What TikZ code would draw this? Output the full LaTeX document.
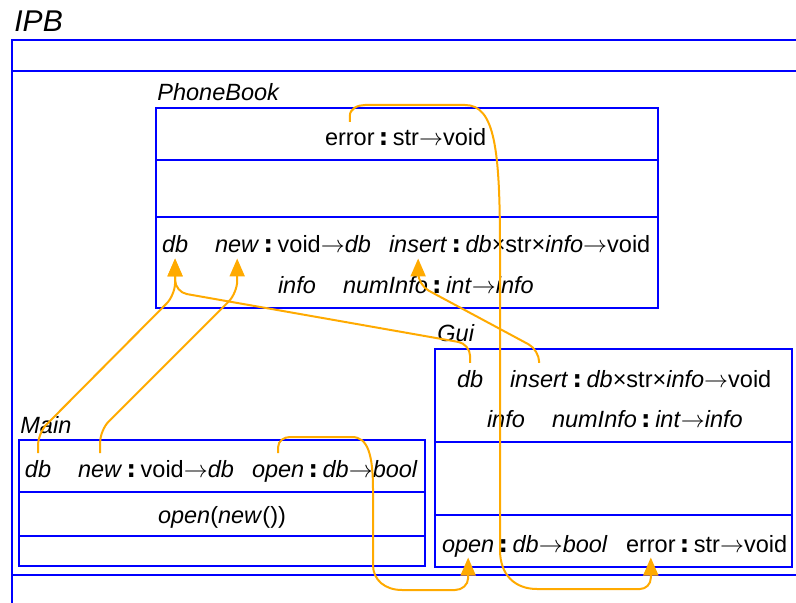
\documentclass[tikz,border=0pt]{standalone}
\usepackage{fontspec}
\setmainfont{Liberation Sans}
\newfontfamily\colonfont{DejaVu Sans}
\usepackage{tikz}
\usetikzlibrary{positioning, arrows.meta}
\definecolor{wire}{RGB}{255,170,0}
\tikzstyle{boxline} = [draw=blue, line width=1pt]
\tikzstyle{classbox} = [rectangle, draw=blue, line width=1pt, inner sep=0pt, outer sep=0pt, anchor=north west]
\tikzstyle{word} = [inner sep=0pt, outer xsep=0pt, outer ysep=2.75pt, text height=9.25pt, text depth=0pt, anchor=base west, font=\fs]
\tikzstyle{classname} = [inner sep=0pt, anchor=base west, font=\fs\itshape]
\tikzstyle{wirearrow} = [draw=wire, line width=1pt, rounded corners=6pt, -{Triangle[width=7.5pt,length=9pt]}]
\def\fs{\fontsize{11.75}{14}\selectfont}
\def\ty{\hspace{0.18em}{\colonfont\bfseries:}\hspace{0.2em}}
\def\fn{$\rightarrow$}
\def\cross{×}

\begin{document}
\begin{tikzpicture}[x=0.5pt, y=-0.5pt]
\path [use as bounding box] (0,0) rectangle (796,603);
\clip (0,0) rectangle (796,603);

% IPB
\node (ipb) [classname, font=\fontsize{15}{18}\selectfont\itshape] at (14,32) {IPB};
\draw [boxline] (830,40) -| (12,620);
\draw [boxline] (12,71) -- (830,71);
\draw [boxline] (12,575) -- (830,575);

% PhoneBook
\node (pbname) [classname] at (157,101) {PhoneBook};
\node (pb) [classbox, minimum width=251pt, minimum height=100pt] at (156,108) {};
\draw [boxline] (pb.west |- 0,160) -- (pb.east |- 0,160);
\draw [boxline] (pb.west |- 0,217) -- (pb.east |- 0,217);
\node (pberror) [word] at (325,146) {error};
\node (pberrort) [word, base right=0pt of pberror] {\ty str\fn void};
\node (pbdb) [word] at (162,253) {\textit{db}};
\node (pbnew) [word] at (215,253) {\textit{new}};
\node (pbnewt) [word, base right=0pt of pbnew] {\ty void\fn\textit{db}};
\node (pbins) [word] at (389,253) {\textit{insert}};
\node (pbinst) [word, base right=0pt of pbins] {\ty\textit{db}\cross str\cross\textit{info}\fn void};
\node (pbinfo) [word] at (278,294) {\textit{info}};
\node (pbnum) [word] at (343,294) {\textit{numInfo}};
\node (pbnumt) [word, base right=0pt of pbnum] {\ty\textit{int}\fn\textit{info}};

% Gui
\node (guiname) [classname] at (437,342) {Gui};
\node (gui) [classbox, minimum width=178.5pt, minimum height=109pt] at (435,349) {};
\draw [boxline] (gui.west |- 0,442) -- (gui.east |- 0,442);
\draw [boxline] (gui.west |- 0,515) -- (gui.east |- 0,515);
\node (gdb) [word] at (457,387) {\textit{db}};
\node (gins) [word] at (510,387) {\textit{insert}};
\node (ginst) [word, base right=0pt of gins] {\ty\textit{db}\cross str\cross\textit{info}\fn void};
\node (ginfo) [word] at (487,427) {\textit{info}};
\node (gnum) [word] at (552,427) {\textit{numInfo}};
\node (gnumt) [word, base right=0pt of gnum] {\ty\textit{int}\fn\textit{info}};
\node (gopen) [word] at (442,552) {\textit{open}};
\node (gopent) [word, base right=0pt of gopen] {\ty\textit{db}\fn\textit{bool}};
\node (gerror) [word] at (626,552) {error};
\node (gerrort) [word, base right=0pt of gerror] {\ty str\fn void};

% Main
\node (mainname) [classname] at (20,433) {Main};
\node (main) [classbox, minimum width=203pt, minimum height=63pt] at (19,440) {};
\draw [boxline] (main.west |- 0,492) -- (main.east |- 0,492);
\draw [boxline] (main.west |- 0,536) -- (main.east |- 0,536);
\node (mdb) [word] at (25,477) {\textit{db}};
\node (mnew) [word] at (78,477) {\textit{new}};
\node (mnewt) [word, base right=0pt of mnew] {\ty void\fn\textit{db}};
\node (mopen) [word] at (252,477) {\textit{open}};
\node (mopent) [word, base right=0pt of mopen] {\ty\textit{db}\fn\textit{bool}};
\node (mcall) [word] at (158,523) {\textit{open}(\textit{new}())};

% links
\draw [wirearrow] (mdb.north) -- (mdb.north |- 0,433) -- (pbdb.south |- 0,295) -- (pbdb.south);
\draw [wirearrow] (gdb.north) -- (gdb.north |- 0,344) -- (pbdb.south |- 0,292) -- (pbdb.south);
\draw [wirearrow] (mnew.north) -- (mnew.north |- 0,430) -- (pbnew.south |- 0,293) -- (pbnew.south);
\draw [wirearrow] (gins.north) -- (gins.north |- 0,350) -- (pbins.south |- 0,285) -- (pbins.south);
\draw [wirearrow, sharp corners] (pberror.north) -- (pberror.north |- 0,116) to[out=90,in=180] (365,105) -- (465,105)
  .. controls (495,105) and (500,150) .. (500,250) -- (500,550)
  .. controls (500,575) and (515,589) .. (537,589) -- (640,589)
  to[out=0,in=-90] (gerror.south |- 0,578) -- (gerror.south);
\draw [wirearrow, sharp corners] (mopen.north) -- (mopen.north |- 0,447) to[out=90,in=180] (290,437) -- (352,437)
  .. controls (368,437) and (373,455) .. (373,490) -- (373,565)
  .. controls (373,580) and (385,590) .. (402,590) -- (455,590)
  to[out=0,in=-90] (gopen.south |- 0,578) -- (gopen.south);

\end{tikzpicture}
\end{document}
